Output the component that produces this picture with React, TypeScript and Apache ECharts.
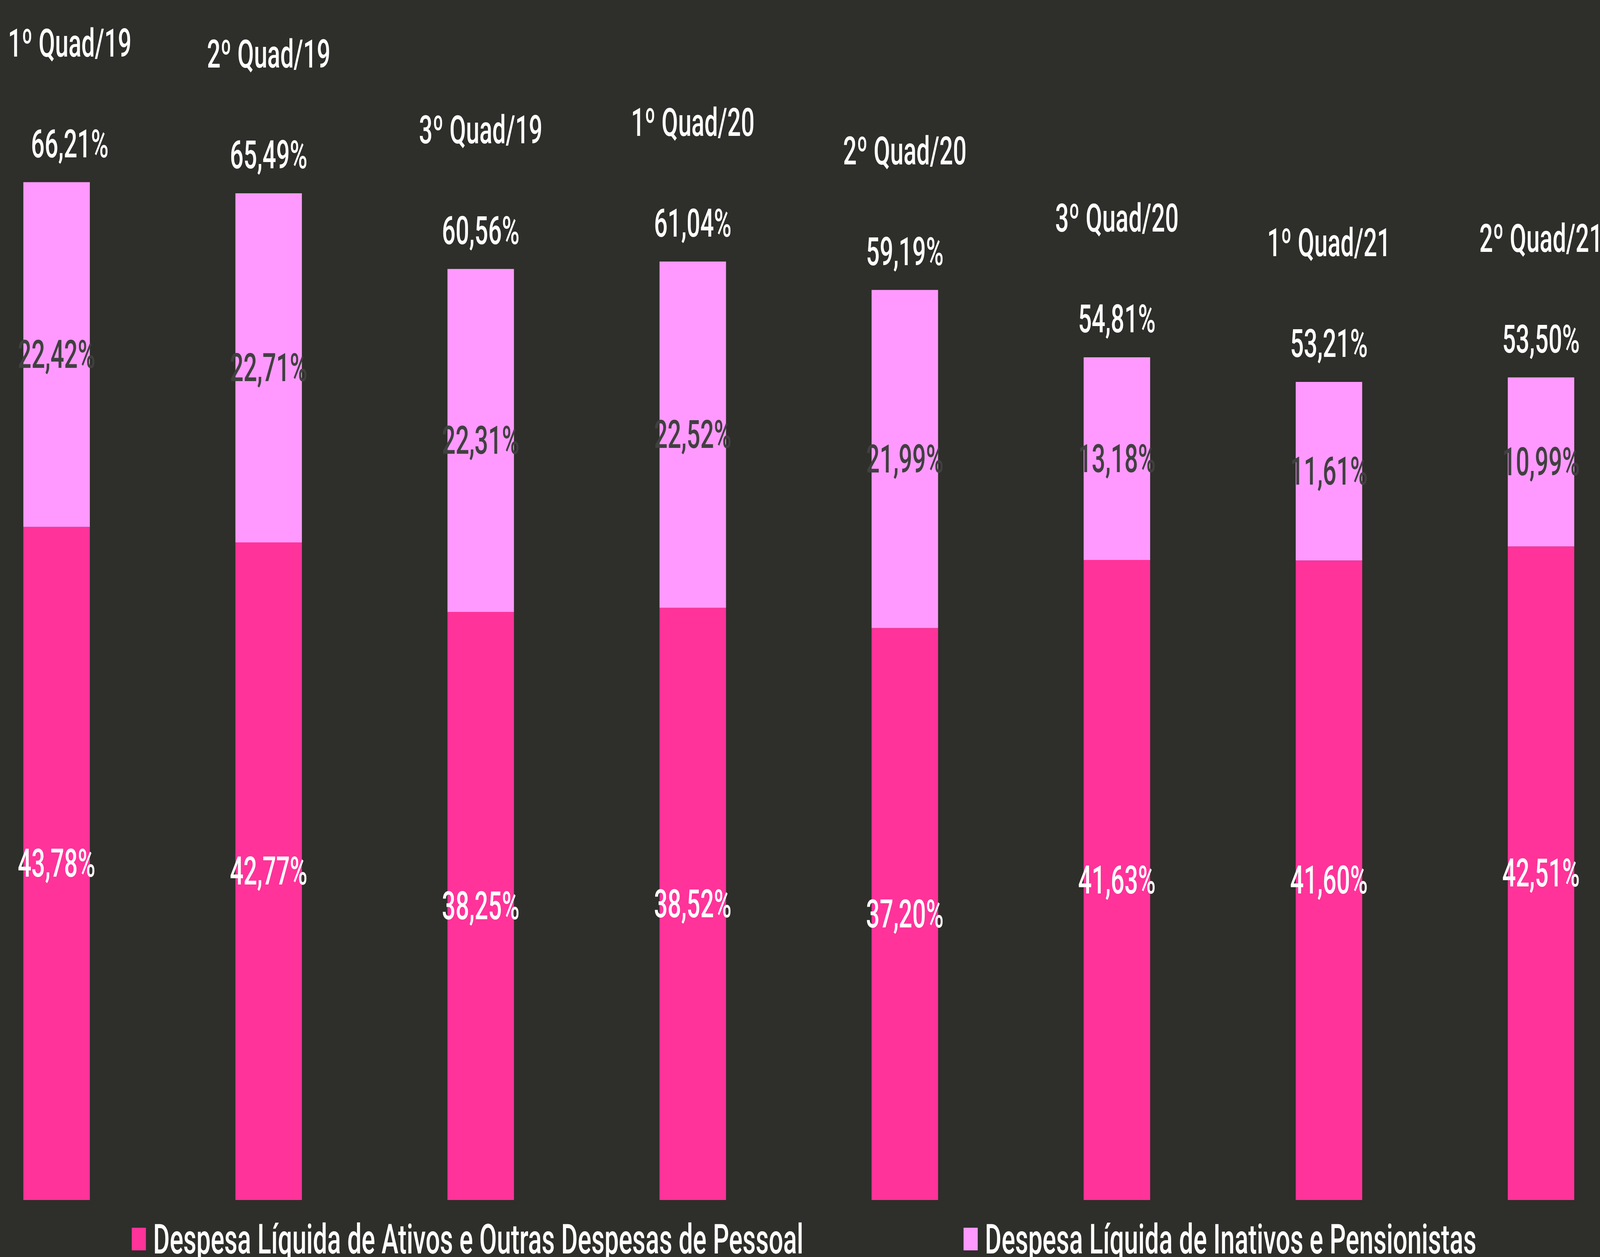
import React, { useEffect, useRef } from "react";
import * as echarts from "echarts";

const categories = [
  "1º Quad/19",
  "2º Quad/19",
  "3º Quad/19",
  "1º Quad/20",
  "2º Quad/20",
  "3º Quad/20",
  "1º Quad/21",
  "2º Quad/21",
];
const ativos = [43.78, 42.77, 38.25, 38.52, 37.2, 41.63, 41.6, 42.51];
const inativos = [22.42, 22.71, 22.31, 22.52, 21.99, 13.18, 11.61, 10.99];
const totals = [66.21, 65.49, 60.56, 61.04, 59.19, 54.81, 53.21, 53.5];

const seriesNames = [
  "Despesa Líquida de Ativos e Outras Despesas de Pessoal",
  "Despesa Líquida de Inativos e Pensionistas",
];

const FONT = "Roboto";
const BG = "#2E2E2A";
const DARK_PINK = "#FF3399";
const LIGHT_PINK = "#FF99FF";

const REF_W = 6667;
const REF_H = 3219;
const EXTRA_L = 206;
const EXTRA_R = 196;

const fmt = (v: number) => v.toFixed(2).replace(".", ",") + "%";

export default function App() {
  const ref = useRef<HTMLDivElement>(null);
  const vw = typeof window !== "undefined" ? window.innerWidth : REF_W;
  const vh = typeof window !== "undefined" ? window.innerHeight : REF_H;
  const kx = vw / REF_W;
  const ky = vh / REF_H;

  useEffect(() => {
    document.body.style.margin = "0";
    document.body.style.background = BG;
    document.body.style.overflow = "hidden";
    if (!ref.current) return;
    const chart = echarts.init(ref.current, undefined, { renderer: "svg" });
    const barWidth = 277;
    const legendText = {
      color: "#FFFFFF",
      fontSize: 106,
      lineHeight: 106,
      fontFamily: FONT,
      fontWeight: 500,
      padding: [0, 0, 0, 25],
    };
    chart.setOption({
      animation: false,
      backgroundColor: BG,
      grid: { left: 0, right: 0, top: 2, bottom: 146, containLabel: false },
      xAxis: {
        type: "category",
        data: categories,
        axisLine: { show: false },
        axisTick: { show: false },
        axisLabel: { show: false },
        splitLine: { show: false },
      },
      yAxis: {
        type: "value",
        min: 0,
        max: 78,
        show: false,
        splitLine: { show: false },
      },
      legend: [
        {
          data: [seriesNames[0]],
          left: EXTRA_L + 544,
          top: 3115,
          itemWidth: 59,
          itemHeight: 58,
          icon: "rect",
          textStyle: legendText,
        },
        {
          data: [seriesNames[1]],
          left: EXTRA_L + 4010,
          top: 3115,
          itemWidth: 59,
          itemHeight: 58,
          icon: "rect",
          textStyle: legendText,
        },
      ],
      series: [
        {
          name: seriesNames[0],
          type: "bar",
          stack: "total",
          barWidth,
          data: ativos,
          itemStyle: { color: DARK_PINK },
          label: {
            show: true,
            position: "inside",
            color: "#FFFFFF",
            fontSize: 100,
            fontWeight: 500,
            fontFamily: FONT,
            formatter: (p: any) => fmt(p.value),
          },
        },
        {
          name: seriesNames[1],
          type: "bar",
          stack: "total",
          barWidth,
          data: inativos,
          itemStyle: { color: LIGHT_PINK },
          label: {
            show: true,
            position: "inside",
            color: "#404040",
            fontSize: 100,
            fontWeight: 500,
            fontFamily: FONT,
            formatter: (p: any) => fmt(p.value),
          },
        },
        {
          name: "Total",
          type: "bar",
          barWidth,
          barGap: "-100%",
          z: 1,
          data: totals.map((v, i) =>
            i === 0 ? { value: v, label: { offset: [55, 0] } } : { value: v }
          ),
          itemStyle: { color: "rgba(0,0,0,0)" },
          label: {
            show: true,
            position: "top",
            distance: 38,
            fontFamily: FONT,
            formatter: (p: any) => `{c|${categories[p.dataIndex]}}\n{v|${fmt(p.value)}}`,
            rich: {
              c: { fontSize: 100, fontWeight: 500, color: "#FFFFFF", fontFamily: FONT, lineHeight: 396 },
              v: { fontSize: 100, fontWeight: 500, color: "#FFFFFF", fontFamily: FONT, lineHeight: 120 },
            },
          },
        },
      ],
    });
    return () => chart.dispose();
  }, []);

  return (
    <div style={{ position: "relative", width: vw, height: vh, overflow: "hidden", background: BG }}>
      <div
        style={{
          position: "absolute",
          left: 0,
          top: 0,
          width: REF_W,
          height: REF_H,
          overflow: "hidden",
          transform: `scale(${kx}, ${ky})`,
          transformOrigin: "0 0",
        }}
      >
        <div
          ref={ref}
          style={{
            position: "absolute",
            left: -EXTRA_L,
            top: 0,
            width: REF_W + EXTRA_L + EXTRA_R,
            height: REF_H,
          }}
        />
      </div>
    </div>
  );
}
